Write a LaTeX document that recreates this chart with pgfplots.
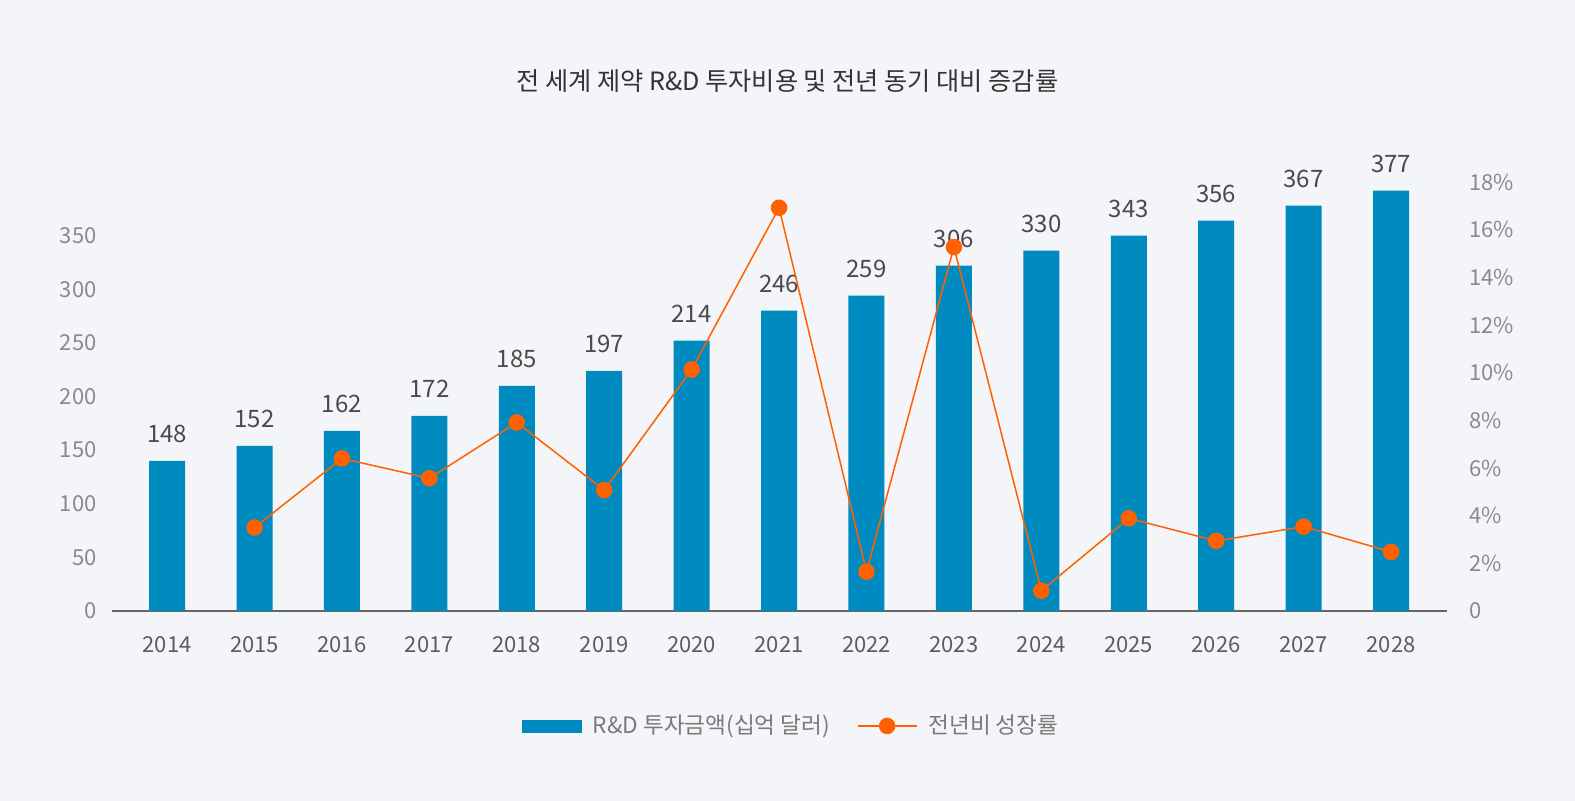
\documentclass[border=0pt]{standalone}
\usepackage{fontspec}
\setmainfont{Noto Sans CJK KR}
\usepackage{pgfplots}
\pgfplotsset{compat=1.18}
\usepackage{pgfplotstable}

\definecolor{bgc}{HTML}{F4F5F9}
\definecolor{barc}{HTML}{008BC0}
\definecolor{linec}{HTML}{FF6000}
\definecolor{tickc}{HTML}{8A8A8A}
\definecolor{yearc}{HTML}{5C5C5C}
\definecolor{labc}{HTML}{4A4A4A}
\definecolor{titc}{HTML}{333333}
\definecolor{legc}{HTML}{7A7A7A}
\definecolor{axc}{HTML}{666666}

% bar heights as drawn, with the printed value beside them
\pgfplotstableread{
x y lab
0 140 148
1 154 152
2 168 162
3 182 172
4 210 185
5 224 197
6 252 214
7 280 246
8 294 259
9 322 306
10 336 330
11 350 343
12 364 356
13 378 367
14 392 377
}\rdtable

% year-on-year growth, %
\pgfplotstableread{
x g
1 3.50
2 6.40
3 5.57
4 7.91
5 5.07
6 10.13
7 16.92
8 1.65
9 15.27
10 0.85
11 3.89
12 2.94
13 3.54
14 2.48
}\growth

\begin{document}
\begin{tikzpicture}
\fill[bgc] (-56pt,-95pt) rectangle (731.5pt,305.5pt);
\begin{axis}[
  at={(0,0)}, anchor=south west,
  scale only axis, width=667.5pt, height=214.5pt,
  xmin=-0.63, xmax=14.64, ymin=0, ymax=400,
  axis x line*=bottom, axis y line*=left,
  y axis line style={draw=none},
  x axis line style={-, axc, line width=0.65pt},
  xtick={0,...,14},
  xticklabels={2014,2015,2016,2017,2018,2019,2020,2021,2022,2023,2024,2025,2026,2027,2028},
  ytick={0,50,...,350},
  yticklabels={0,50,100,150,200,250,300,350},
  major tick length=0pt,
  tick label style={font=\fontsize{11}{13}\selectfont, text=tickc},
  /pgf/number format/assume math mode=true,
  xticklabel style={anchor=base, yshift=-21pt, inner sep=0pt, text=yearc},
  yticklabel style={anchor=east, xshift=-7.5pt, inner sep=0pt},
  ybar, bar width=18pt,
  nodes near coords, point meta=explicit symbolic,
  nodes near coords style={anchor=base, yshift=9pt, inner sep=0pt,
    font=\fontsize{12}{14}\selectfont, text=labc},
  title={전 세계 제약 R\&D 투자비용 및 전년 동기 대비 증감률},
  title style={at={(0.506,1.208)}, anchor=center,
    font=\fontsize{12.6}{15}\selectfont, text=titc},
]
\addplot[fill=barc, draw=none] table[x=x, y=y, meta=lab]{\rdtable};
\end{axis}
\begin{axis}[
  at={(0,0)}, anchor=south west,
  scale only axis, width=667.5pt, height=214.5pt,
  xmin=-0.63, xmax=14.64, ymin=0, ymax=18,
  axis y line*=right, hide x axis,
  y axis line style={draw=none},
  ytick={0,2,...,18},
  yticklabels={0,2\%,4\%,6\%,8\%,10\%,12\%,14\%,16\%,18\%},
  major tick length=0pt,
  tick label style={font=\fontsize{11}{13}\selectfont, text=tickc},
  yticklabel style={anchor=west, xshift=11pt, inner sep=0pt},
  legend columns=2,
  legend style={at={(0.508,-0.268)}, anchor=center, draw=none, fill=none,
    font=\fontsize{11.3}{13}\selectfont, text=legc,
    nodes={inner sep=0pt},
    /tikz/every odd column/.append style={column sep=5.5pt},
    /tikz/every even column/.append style={column sep=13.5pt}},
  legend cell align=left,
]
\addlegendimage{legend image code/.code={\fill[barc] (0pt,-3pt) rectangle (29.5pt,3pt);}}
\addlegendentry{R\&D 투자금액(십억 달러)}
\addplot[linec, line width=0.75pt, mark=*, mark size=3.75pt,
  mark options={fill=linec, draw=none},
  legend image code/.code={
    \draw[linec, line width=0.75pt] (0pt,0pt) -- (29.5pt,0pt);
    \fill[linec] (14.75pt,0pt) circle (3.75pt);}]
  table[x=x, y=g]{\growth};
\addlegendentry{전년비 성장률}
\end{axis}
\end{tikzpicture}
\end{document}
